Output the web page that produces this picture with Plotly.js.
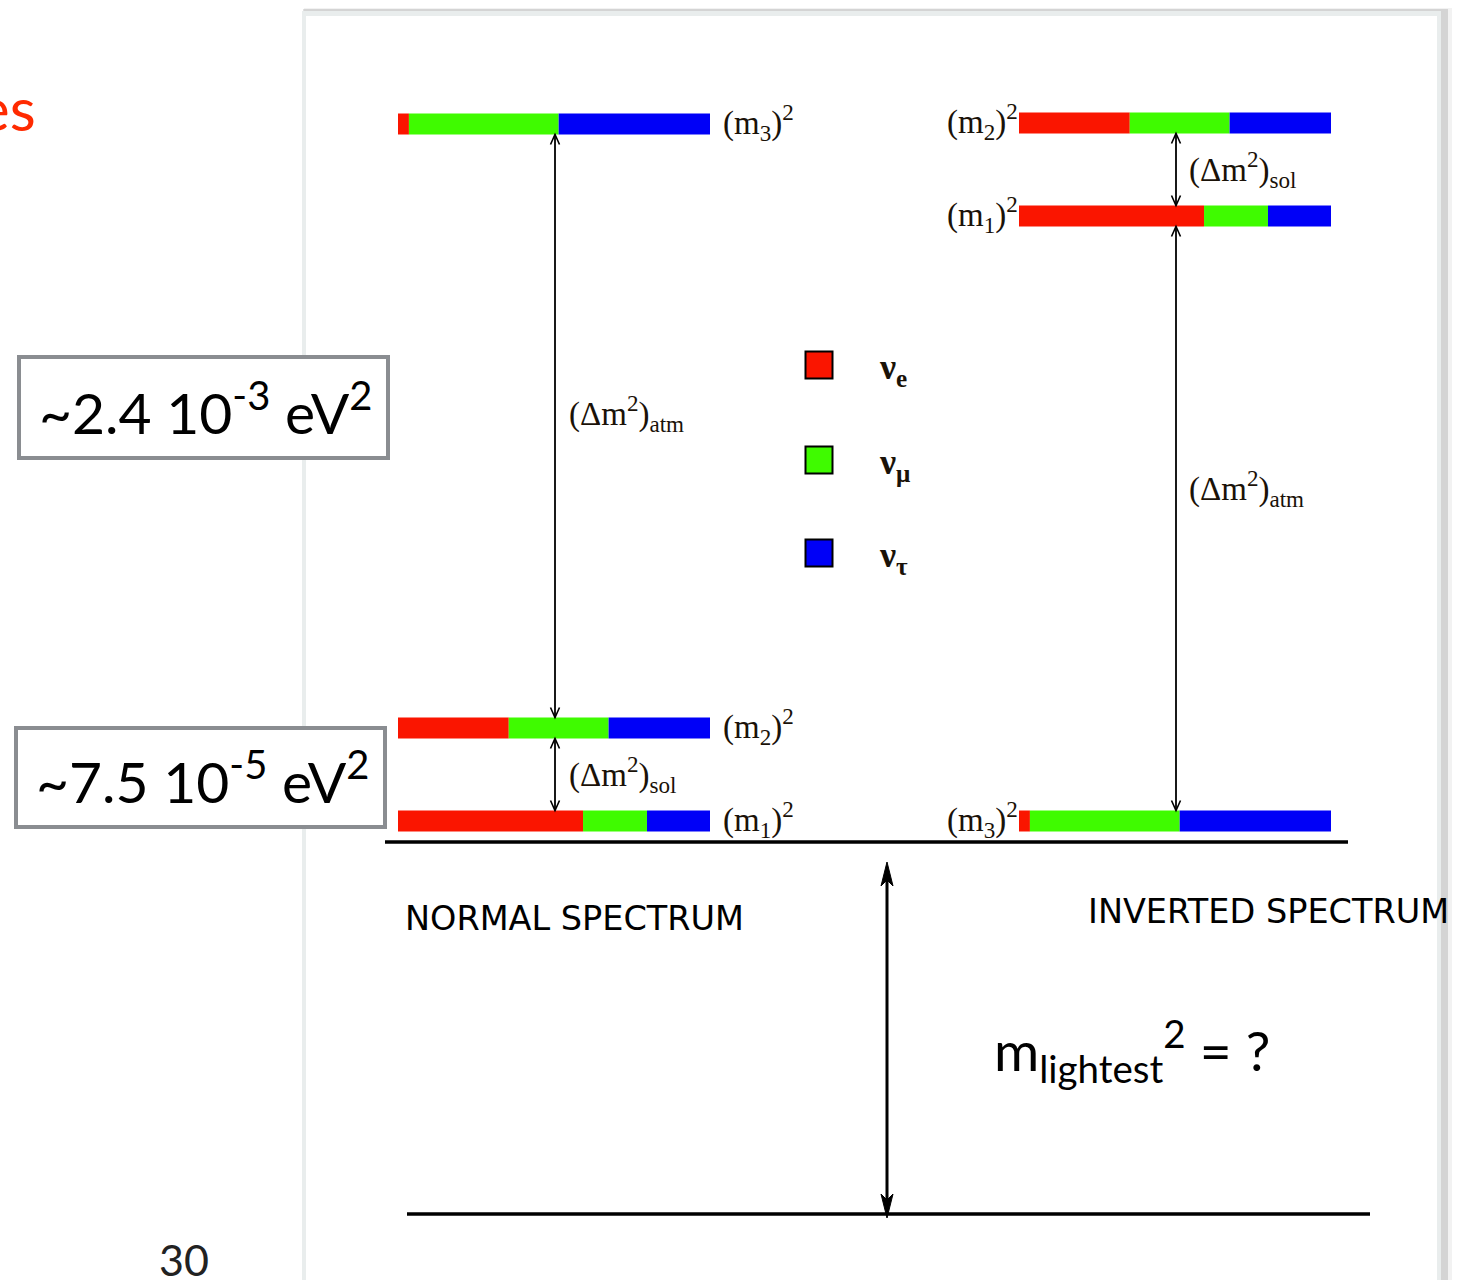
<!DOCTYPE html>
<html><head><meta charset="utf-8">
<script src="https://cdn.plot.ly/plotly-3.0.1.min.js"></script>
<style>html,body{margin:0;padding:0;background:#fff;overflow:hidden} #chart{width:1467px;height:1280px;}</style>
</head><body><div id="chart"></div>
<script>
// ---------- data ----------
const massStates = ['m<sub>1</sub>', 'm<sub>2</sub>', 'm<sub>3</sub>'];
const flavorLabels = ['ν<sub>e</sub>', 'ν<sub>μ</sub>', 'ν<sub>τ</sub>'];
const fracE   = [0.593, 0.355, 0.035];   // |U_e i|^2   for m1, m2, m3
const fracMu  = [0.205, 0.320, 0.480];   // |U_mu i|^2
const fracTau = [0.202, 0.325, 0.485];   // |U_tau i|^2
const normalLevels   = [21, 114, 718];   // m1, m2, m3 (diagram units above baseline)
const invertedLevels = [626, 719, 21];   // m1, m2, m3
const splitLabels = ['(Δm<sup>2</sup>)<sub>sol</sub>', '(Δm<sup>2</sup>)<sub>atm</sub>'];
const scaleLabels = ['~2.4 10<sup>-3</sup> eV<sup>2</sup>', '~7.5 10<sup>-5</sup> eV<sup>2</sup>'];
const spectrumNames = ['NORMAL SPECTRUM', 'INVERTED SPECTRUM'];
const lightestLabel = 'm<sub>lightest</sub><sup>2</sup> = ?';
const lightestDepth = 372;

// ---------- layout constants ----------
const BASE_PX = 842;
const py = p => BASE_PX - p;
const N_X0 = 398, I_X0 = 1019, BAR_W = 312, BAR_H = 21;
const flavorColors = ['#fa1500', '#3ffb00', '#0000f7'];
const SERIF = 'Liberation Serif, Times New Roman, serif';
const SANS = 'Lato, Open Sans, sans-serif';
const WIDE = 'DejaVu Sans, Open Sans, sans-serif';
const fracs = [fracE, fracMu, fracTau];

const traces = [];
[[N_X0, normalLevels], [I_X0, invertedLevels]].forEach(([x0, levels]) => {
  fracs.forEach((fr, f) => {
    const base = levels.map((_, i) => {
      let s = 0; for (let k = 0; k < f; k++) s += fracs[k][i];
      return x0 + s * BAR_W;
    });
    traces.push({
      type: 'bar', orientation: 'h', y: levels, x: fr.map(v => v * BAR_W), base: base,
      width: BAR_H, marker: {color: flavorColors[f], line: {width: 0}}, hoverinfo: 'skip'
    });
  });
});

// legend squares
const legendY = [py(365), py(460), py(553)];
traces.push({
  type: 'scatter', mode: 'markers', x: [819, 819, 819], y: legendY,
  marker: {symbol: 'square', size: 27, color: flavorColors, line: {color: '#000', width: 2}},
  hoverinfo: 'skip'
});

const shapes = [];
const annotations = [];

// slide card
shapes.push({type: 'rect', xref: 'x', yref: 'y', layer: 'below', x0: 304, x1: 1452, y0: py(8), y1: py(1300), fillcolor: 'rgba(0,0,0,0.05)', line: {width: 0}});
shapes.push({type: 'rect', xref: 'x', yref: 'y', layer: 'below', x0: 303, x1: 1448, y0: py(9), y1: py(1300), fillcolor: 'rgba(0,0,0,0.12)', line: {width: 0}});
shapes.push({type: 'rect', xref: 'x', yref: 'y', layer: 'below', x0: 302, x1: 1441, y0: py(11), y1: py(1300), fillcolor: '#e9eded', line: {width: 0}});
shapes.push({type: 'rect', xref: 'x', yref: 'y', layer: 'below', x0: 306, x1: 1437, y0: py(16), y1: py(1300), fillcolor: '#ffffff', line: {width: 0}});

// thin double arrows
function thinArrow(x, yLow, yHigh) {
  const L = 10, W = 4.5;
  shapes.push({type: 'line', x0: x, x1: x, y0: yLow, y1: yHigh, line: {color: '#000', width: 1.8}});
  shapes.push({type: 'path', path: `M ${x - W},${yHigh - L} L ${x},${yHigh} L ${x + W},${yHigh - L}`, line: {color: '#000', width: 1.6}});
  shapes.push({type: 'path', path: `M ${x - W},${yLow + L} L ${x},${yLow} L ${x + W},${yLow + L}`, line: {color: '#000', width: 1.6}});
}
const h = BAR_H / 2;
thinArrow(555, normalLevels[1] + h, normalLevels[2] - h);
thinArrow(555, normalLevels[0] + h, normalLevels[1] - h);
thinArrow(1176, invertedLevels[0] + h, invertedLevels[1] - h);
thinArrow(1176, invertedLevels[2] + h, invertedLevels[0] - h);

// baseline and zero line
shapes.push({type: 'line', x0: 385, x1: 1348, y0: 0, y1: 0, line: {color: '#000', width: 3.5}});
shapes.push({type: 'line', x0: 407, x1: 1370, y0: -lightestDepth, y1: -lightestDepth, line: {color: '#000', width: 3.5}});

// big arrow
(function () {
  const x = 887, top = -20, bot = -lightestDepth - 4, L = 24, W = 6, N = 18;
  shapes.push({type: 'line', x0: x, x1: x, y0: top - N, y1: bot + N, line: {color: '#000', width: 3}});
  shapes.push({type: 'path', path: `M ${x},${top} L ${x - W},${top - L} L ${x},${top - N} L ${x + W},${top - L} Z`, fillcolor: '#000', line: {color: '#000', width: 1}});
  shapes.push({type: 'path', path: `M ${x},${bot} L ${x - W},${bot + L} L ${x},${bot + N} L ${x + W},${bot + L} Z`, fillcolor: '#000', line: {color: '#000', width: 1}});
})();

// scale boxes
shapes.push({type: 'rect', x0: 19, x1: 388, y0: py(357), y1: py(458), fillcolor: '#fff', line: {color: '#8a8d91', width: 4}});
shapes.push({type: 'rect', x0: 16, x1: 385, y0: py(728), y1: py(827), fillcolor: '#fff', line: {color: '#8a8d91', width: 4}});

function ann(o) {
  annotations.push(Object.assign({xref: 'x', yref: 'y', showarrow: false, yanchor: 'middle'}, o));
}
// mass labels
const massFont = {family: SERIF, size: 33, color: '#1a1208'};
massStates.forEach((m, i) => {
  ann({x: N_X0 + BAR_W + 11, y: normalLevels[i] + 2, xanchor: 'left', text: '(' + m + ')<sup>2</sup>', font: massFont});
  ann({x: I_X0 + 1, y: invertedLevels[i] + 2, xanchor: 'right', text: '(' + m + ')<sup>2</sup>', font: massFont});
});
// splitting labels
ann({x: 567, y: py(413), xanchor: 'left', text: splitLabels[1], font: massFont});
ann({x: 567, y: py(774), xanchor: 'left', text: splitLabels[0], font: massFont});
ann({x: 1187, y: py(169), xanchor: 'left', text: splitLabels[0], font: massFont});
ann({x: 1187, y: py(488), xanchor: 'left', text: splitLabels[1], font: massFont});
// legend labels
flavorLabels.forEach((t, i) => {
  ann({x: 877, y: legendY[i] - 4, xanchor: 'left', text: '<b>' + t + '</b>', font: {family: SERIF, size: 36, color: '#1a1208'}});
});
// scale box text
ann({x: 205, y: py(408), xanchor: 'center', text: scaleLabels[0], font: {family: SANS, size: 57, color: '#000'}});
ann({x: 202, y: py(777), xanchor: 'center', text: scaleLabels[1], font: {family: SANS, size: 57, color: '#000'}});
// spectrum names
ann({x: 403, y: py(918), xanchor: 'left', text: spectrumNames[0], font: {family: WIDE, size: 33.5, color: '#000'}});
ann({x: 1086, y: py(911), xanchor: 'left', text: spectrumNames[1], font: {family: WIDE, size: 33.5, color: '#000'}});
// lightest
ann({x: 992, y: py(1050), xanchor: 'left', text: lightestLabel, font: {family: SANS, size: 55, color: '#000'}});
// slide leftovers
ann({x: 38, y: py(108), xanchor: 'right', text: 'es', font: {family: SANS, size: 60, color: '#ff2a00'}});
ann({x: 184, y: py(1259), xanchor: 'center', text: '30', font: {family: SANS, size: 43, color: '#222'}});

const layout = {
  width: 1467, height: 1280, margin: {l: 0, r: 0, t: 0, b: 0},
  paper_bgcolor: '#fff', plot_bgcolor: 'rgba(0,0,0,0)',
  showlegend: false, barmode: 'overlay',
  xaxis: {range: [0, 1467], visible: false, fixedrange: true},
  yaxis: {range: [BASE_PX - 1280, BASE_PX], visible: false, fixedrange: true},
  shapes: shapes, annotations: annotations
};
Plotly.newPlot('chart', traces, layout, {displayModeBar: false, staticPlot: true});
</script></body></html>
